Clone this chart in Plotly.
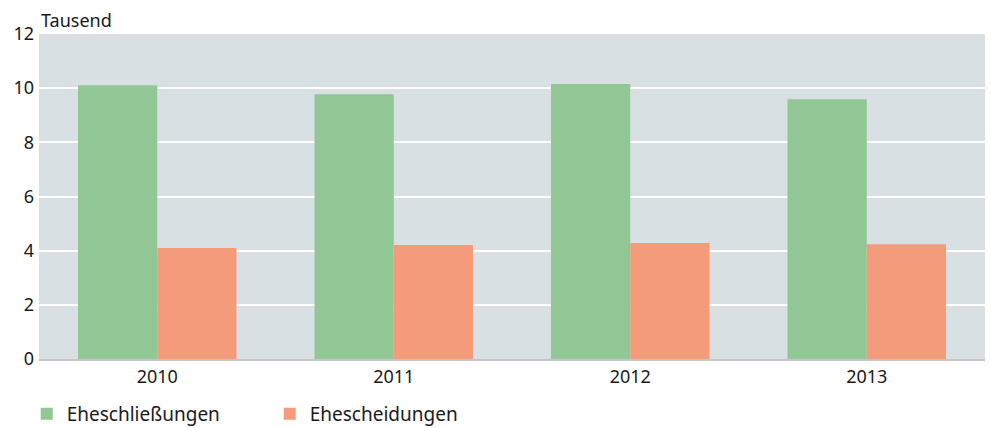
import plotly.graph_objects as go

years = ["2010", "2011", "2012", "2013"]
eheschliessungen = [10.11, 9.78, 10.15, 9.59]
ehescheidungen = [4.10, 4.21, 4.28, 4.24]
y_ticks = [0, 2, 4, 6, 8, 10, 12]

FONT = "Noto Sans"

fig = go.Figure()
fig.add_trace(go.Bar(name="Eheschließungen", x=years, y=eheschliessungen,
                     marker=dict(color="#90c795", line=dict(width=0))))
fig.add_trace(go.Bar(name="Ehescheidungen", x=years, y=ehescheidungen,
                     marker=dict(color="#f39b7b", line=dict(width=0))))

fig.update_layout(
    width=990, height=428,
    margin=dict(l=39, r=5, t=34, b=69),
    paper_bgcolor="white",
    plot_bgcolor="#d9e0e3",
    barmode="group",
    bargap=0.33,
    bargroupgap=0,
    font=dict(family=FONT, size=18, color="#1a1a1a"),
    showlegend=True,
    legend=dict(orientation="h", xref="container", yref="container",
                x=0.027, y=0.033, xanchor="left", yanchor="middle",
                font=dict(size=19), entrywidth=198, itemwidth=30,
                bgcolor="rgba(0,0,0,0)"),
    annotations=[dict(text="Tausend", xref="paper", yref="paper", x=0, y=1,
                      xanchor="left", yanchor="bottom", yshift=0, showarrow=False,
                      font=dict(size=18))],
)
fig.update_xaxes(showgrid=False, showline=True, linecolor="#c3c6c8", linewidth=2,
                 ticks="", tickfont=dict(size=18), automargin=False)
fig.update_yaxes(range=[0, 12], tickvals=y_ticks, showgrid=True, gridcolor="white",
                 gridwidth=2, zeroline=False, ticks="", tickfont=dict(size=18),
                 ticklabelstandoff=4, automargin=False)

fig.write_html("out.html", config={"displayModeBar": False},
               post_script="document.body.style.margin='0';")
